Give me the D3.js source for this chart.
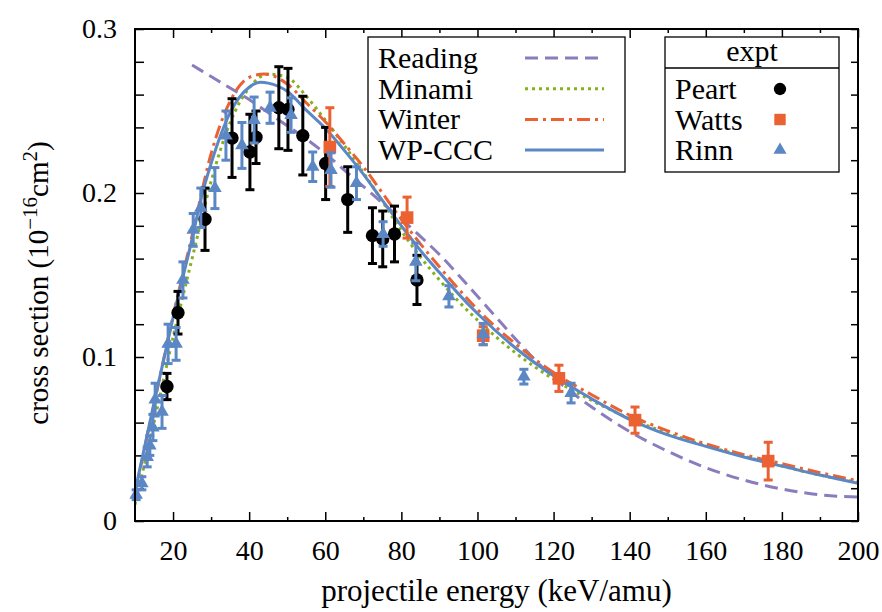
<!DOCTYPE html>
<html>
<head>
<meta charset="utf-8">
<script src="https://cdn.jsdelivr.net/npm/d3@7"></script>
<style>
  html, body { margin: 0; padding: 0; background: #fff; }
  svg { display: block; }
</style>
</head>
<body>
<svg id="chart" width="882" height="612"></svg>
<script>
// ---- theory curves: projectile energy (keV/amu) vs cross section (1e-16 cm^2)
const readingE  = [25, 30, 35, 40, 45, 50, 55, 60, 65, 70, 75, 80, 85, 90, 95, 100, 105, 110, 115, 120, 125, 130, 140, 150, 160, 170, 180, 190, 200];
const readingCS = [0.278, 0.271, 0.264, 0.257, 0.249, 0.241, 0.233, 0.224, 0.214, 0.204, 0.194, 0.184, 0.1735, 0.1625, 0.150, 0.137, 0.124, 0.111, 0.0985, 0.0875, 0.078, 0.0695, 0.0545, 0.0425, 0.0325, 0.025, 0.0195, 0.016, 0.0146];

const minamiE  = [10, 15, 20, 25, 30, 35, 40, 45, 50, 55, 60, 65, 70, 75, 80, 85, 90, 95, 100, 110, 120, 130, 140, 150, 160, 170, 180, 190, 200];
const minamiCS = [0.010, 0.060, 0.112, 0.160, 0.207, 0.243, 0.264, 0.2725, 0.2705, 0.259, 0.2445, 0.229, 0.2125, 0.195, 0.177, 0.161, 0.147, 0.134, 0.1225, 0.1025, 0.0865, 0.0735, 0.0625, 0.0535, 0.046, 0.0395, 0.0335, 0.028, 0.0235];

const winterE  = [10, 15, 20, 25, 30, 35, 40, 44, 50, 55, 60, 65, 70, 75, 80, 85, 90, 95, 100, 110, 120, 130, 140, 150, 160, 170, 180, 190, 200];
const winterCS = [0.017, 0.071, 0.125, 0.174, 0.224, 0.256, 0.2705, 0.2725, 0.2665, 0.255, 0.2435, 0.230, 0.216, 0.200, 0.184, 0.169, 0.155, 0.1415, 0.129, 0.108, 0.0905, 0.077, 0.0645, 0.055, 0.047, 0.0405, 0.035, 0.0295, 0.0245];

const wpcccE  = [10, 15, 20, 25, 27.5, 30, 35, 40, 43, 45, 50, 55, 60, 65, 70, 75, 80, 85, 90, 95, 100, 110, 120, 130, 140, 150, 160, 170, 180, 190, 200];
const wpcccCS = [0.018, 0.072, 0.124, 0.172, 0.198, 0.218, 0.249, 0.2645, 0.2675, 0.267, 0.262, 0.2505, 0.2395, 0.226, 0.2115, 0.1955, 0.180, 0.165, 0.1515, 0.1385, 0.1265, 0.1055, 0.0885, 0.0745, 0.062, 0.0525, 0.0455, 0.039, 0.0335, 0.028, 0.023];

// ---- experiments
const peartE   = [18.4, 21.3, 28.4, 35.5, 40.2, 41.8, 47.8, 50.2, 54.1, 60.1, 65.9, 72.4, 75.1, 78.2, 84.1];
const peartCS  = [0.082, 0.127, 0.184, 0.2335, 0.225, 0.234, 0.252, 0.251, 0.235, 0.218, 0.196, 0.174, 0.172, 0.175, 0.147];
const peartErr = [0.008, 0.013, 0.019, 0.024, 0.023, 0.016, 0.025, 0.025, 0.024, 0.022, 0.020, 0.017, 0.017, 0.017, 0.015];

const wattsE   = [61.2, 81.5, 101.5, 121.4, 141.4, 176.4];
const wattsCS  = [0.228, 0.185, 0.113, 0.087, 0.0615, 0.0365];
const wattsErr = [0.024, 0.0125, 0.0055, 0.008, 0.008, 0.0115];

const rinnE   = [10.3, 11.8, 13.2, 13.9, 14.7, 15.3, 17.1, 18.7, 20.8, 22.6, 25.3, 27.3, 31.0, 33.9, 38.1, 41.3, 45.5, 51.0, 56.7, 61.5, 68.2, 75.2, 83.8, 92.5, 101.5, 112.2, 124.6];
const rinnCS  = [0.016, 0.023, 0.039, 0.046, 0.057, 0.074, 0.0665, 0.108, 0.108, 0.147, 0.1775, 0.191, 0.203, 0.235, 0.229, 0.2445, 0.252, 0.2475, 0.216, 0.214, 0.206, 0.175, 0.158, 0.137, 0.114, 0.088, 0.078];
const rinnErr = [0.003, 0.004, 0.006, 0.006, 0.008, 0.010, 0.010, 0.012, 0.010, 0.011, 0.010, 0.012, 0.0125, 0.015, 0.014, 0.014, 0.0095, 0.0105, 0.009, 0.0105, 0.010, 0.0075, 0.0115, 0.0065, 0.0065, 0.0045, 0.006];

// ---- axis ticks
const xMajor = [20, 40, 60, 80, 100, 120, 140, 160, 180, 200];
const xMinor = [30, 50, 70, 90, 110, 130, 150, 170, 190];
const yMajor = [0, 0.1, 0.2, 0.3];
const yMinor = [0.02, 0.04, 0.06, 0.08, 0.12, 0.14, 0.16, 0.18, 0.22, 0.24, 0.26, 0.28];
const yTickLabels = ["0", "0.1", "0.2", "0.3"];

const theoryNames = ["Reading", "Minami", "Winter", "WP-CCC"];
const exptNames = ["Peart", "Watts", "Rinn"];

// ---- layout
const L = 135, R = 858, T = 29, B = 521;
const FS = 28;
const FONT = "Liberation Serif, DejaVu Serif, Noto Serif, Times New Roman, Times, serif";
const svg = d3.select("#chart");
svg.append("rect").attr("width", 882).attr("height", 612).attr("fill", "#fff");

const x = d3.scaleLinear().domain([10, 200]).range([L, R]);
const y = d3.scaleLinear().domain([0, 0.3]).range([B, T]);

const colors = {
  reading: "#8b7cbd",
  minami: "#85b11c",
  winter: "#eb6132",
  wpccc: "#5b87c5",
  peart: "#000000",
  watts: "#eb6132",
  rinn: "#5b87c5"
};

svg.append("defs").append("clipPath").attr("id", "plotclip")
  .append("rect").attr("x", L).attr("y", T).attr("width", R - L).attr("height", B - T);

// ---- axes (ticks pointing inward, mirrored on top and right)
function styleAxis(g) {
  g.attr("font-family", FONT).attr("font-size", FS);
  g.select(".domain").remove();
  g.selectAll(".tick line").attr("stroke", "#000").attr("stroke-width", 1.5);
  g.selectAll(".tick text").attr("fill", "#000");
}

svg.append("g").attr("transform", `translate(0,${B})`)
  .call(d3.axisBottom(x).tickValues(xMajor).tickSize(-9).tickSizeOuter(0).tickPadding(19).tickFormat(d3.format("d")))
  .call(styleAxis);
svg.append("g").attr("transform", `translate(0,${B})`)
  .call(d3.axisBottom(x).tickValues(xMinor).tickSize(-4).tickSizeOuter(0).tickFormat(""))
  .call(styleAxis);
svg.append("g").attr("transform", `translate(0,${T})`)
  .call(d3.axisTop(x).tickValues(xMajor).tickSize(-9).tickSizeOuter(0).tickFormat(""))
  .call(styleAxis);
svg.append("g").attr("transform", `translate(0,${T})`)
  .call(d3.axisTop(x).tickValues(xMinor).tickSize(-4).tickSizeOuter(0).tickFormat(""))
  .call(styleAxis);

svg.append("g").attr("transform", `translate(${L},0)`)
  .call(d3.axisLeft(y).tickValues(yMajor).tickSize(-9).tickSizeOuter(0).tickPadding(18)
    .tickFormat((d, i) => yTickLabels[i]))
  .call(styleAxis);
svg.append("g").attr("transform", `translate(${L},0)`)
  .call(d3.axisLeft(y).tickValues(yMinor).tickSize(-9).tickSizeOuter(0).tickFormat(""))
  .call(styleAxis);
svg.append("g").attr("transform", `translate(${R},0)`)
  .call(d3.axisRight(y).tickValues(yMajor.concat(yMinor)).tickSize(-7).tickSizeOuter(0).tickFormat(""))
  .call(styleAxis);

// ---- theory curves
const line = d3.line().x(d => x(d[0])).y(d => y(d[1])).curve(d3.curveMonotoneX);
const curves = svg.append("g").attr("clip-path", "url(#plotclip)").attr("fill", "none");

function drawCurve(E, CS, color, dash, w) {
  curves.append("path")
    .datum(E.map((e, i) => [e, CS[i]]))
    .attr("d", line)
    .attr("stroke", color)
    .attr("stroke-width", w)
    .attr("stroke-dasharray", dash)
    .attr("stroke-linecap", "butt");
}
drawCurve(readingE, readingCS, colors.reading, "13,7", 3);
drawCurve(minamiE, minamiCS, colors.minami, "3,4", 3);
drawCurve(winterE, winterCS, colors.winter, "13,5,3,5", 3);
drawCurve(wpcccE, wpcccCS, colors.wpccc, null, 3);

// ---- experimental points with error bars
const pts = svg.append("g");
function drawSet(E, CS, ERR, color, symbolType, size) {
  const g = pts.append("g");
  const data = E.map((e, i) => ({ e, cs: CS[i], err: ERR[i] }));
  const bars = g.selectAll("g.bar").data(data).join("g").attr("class", "bar")
    .attr("stroke", color).attr("stroke-width", 3);
  bars.append("line")
    .attr("x1", d => x(d.e)).attr("x2", d => x(d.e))
    .attr("y1", d => y(d.cs - d.err)).attr("y2", d => y(d.cs + d.err));
  bars.append("line")
    .attr("x1", d => x(d.e) - 4.5).attr("x2", d => x(d.e) + 4.5)
    .attr("y1", d => y(d.cs - d.err)).attr("y2", d => y(d.cs - d.err));
  bars.append("line")
    .attr("x1", d => x(d.e) - 4.5).attr("x2", d => x(d.e) + 4.5)
    .attr("y1", d => y(d.cs + d.err)).attr("y2", d => y(d.cs + d.err));
  g.selectAll("path.mk").data(data).join("path").attr("class", "mk")
    .attr("d", d3.symbol(symbolType, size))
    .attr("transform", d => `translate(${x(d.e)},${y(d.cs)})`)
    .attr("fill", color);
}
drawSet(peartE, peartCS, peartErr, colors.peart, d3.symbolCircle, 140);
drawSet(wattsE, wattsCS, wattsErr, colors.watts, d3.symbolSquare, 160);
drawSet(rinnE, rinnCS, rinnErr, colors.rinn, d3.symbolTriangle, 80);

// ---- frame
svg.append("rect").attr("x", L).attr("y", T).attr("width", R - L).attr("height", B - T)
  .attr("fill", "none").attr("stroke", "#000").attr("stroke-width", 2);

// ---- axis titles
svg.append("text")
  .attr("x", (L + R) / 2).attr("y", 601)
  .attr("text-anchor", "middle").attr("font-family", FONT).attr("font-size", 31)
  .text("projectile energy (keV/amu)");

const yt = svg.append("text")
  .attr("transform", "translate(48,283) rotate(-90)")
  .attr("text-anchor", "middle").attr("font-family", FONT).attr("font-size", 29);
yt.append("tspan").text("cross section (10");
yt.append("tspan").attr("dy", -11).attr("font-size", 21).text("\u221216");
yt.append("tspan").attr("dy", 11).text("cm");
yt.append("tspan").attr("dy", -11).attr("font-size", 21).text("2");
yt.append("tspan").attr("dy", 11).text(")");

// ---- legend: theory
const lg1 = svg.append("g").attr("font-family", FONT).attr("font-size", 30);
lg1.append("rect").attr("x", 368).attr("y", 37).attr("width", 257).attr("height", 135)
  .attr("fill", "#fff").attr("stroke", "#000").attr("stroke-width", 1.3);
const theoryStyles = [
  { c: colors.reading, dash: "13,7" },
  { c: colors.minami, dash: "3,4" },
  { c: colors.winter, dash: "13,5,3,5" },
  { c: colors.wpccc, dash: null }
];
theoryNames.forEach((name, i) => {
  const yy = 58 + i * 30.7;
  lg1.append("text").attr("x", 378).attr("y", yy + 10).text(name);
  lg1.append("line").attr("x1", 525).attr("x2", 604).attr("y1", yy).attr("y2", yy)
    .attr("stroke", theoryStyles[i].c).attr("stroke-width", 3)
    .attr("stroke-dasharray", theoryStyles[i].dash);
});

// ---- legend: experiments
const lg2 = svg.append("g").attr("font-family", FONT).attr("font-size", 30);
lg2.append("rect").attr("x", 665).attr("y", 37).attr("width", 174).attr("height", 135)
  .attr("fill", "#fff").attr("stroke", "#000").attr("stroke-width", 1.3);
lg2.append("line").attr("x1", 665).attr("x2", 839).attr("y1", 68).attr("y2", 68)
  .attr("stroke", "#000").attr("stroke-width", 1.3);
lg2.append("text").attr("x", 752).attr("y", 61).attr("text-anchor", "middle").text("expt");
const exptStyles = [
  { c: colors.peart, s: d3.symbolCircle, a: 120 },
  { c: colors.watts, s: d3.symbolSquare, a: 130 },
  { c: colors.rinn, s: d3.symbolTriangle, a: 75 }
];
exptNames.forEach((name, i) => {
  const yy = 89 + i * 30.5;
  lg2.append("text").attr("x", 675).attr("y", yy + 10).text(name);
  lg2.append("path").attr("d", d3.symbol(exptStyles[i].s, exptStyles[i].a))
    .attr("transform", `translate(780,${yy})`).attr("fill", exptStyles[i].c);
});
</script>
</body>
</html>
